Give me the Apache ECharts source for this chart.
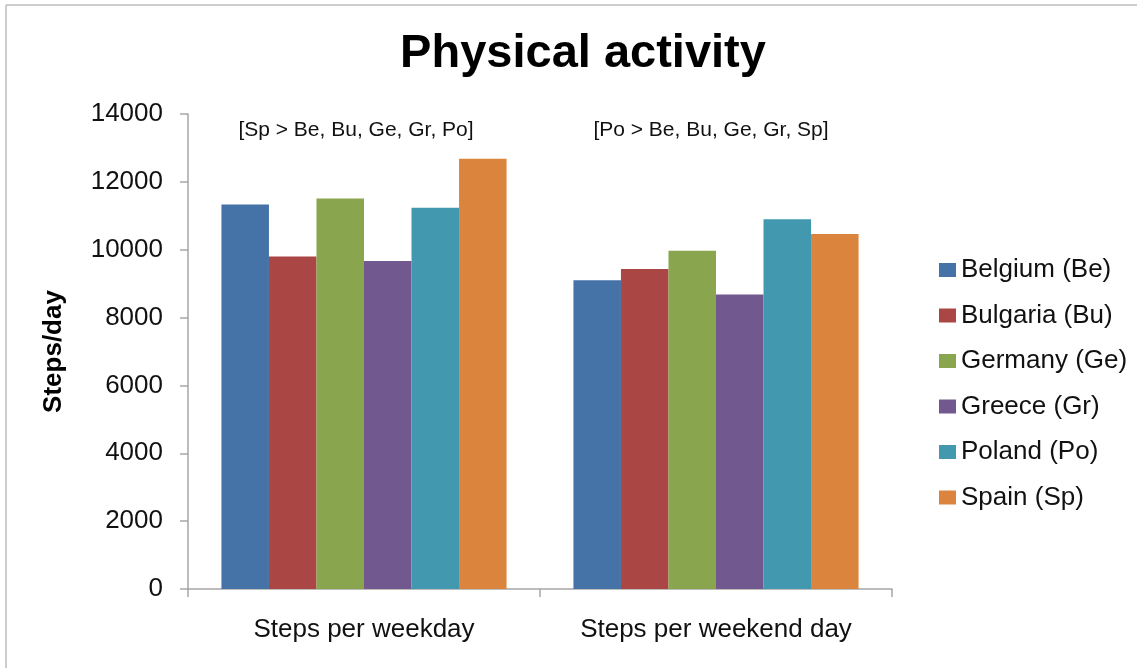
<!DOCTYPE html>
<html>
<head>
<meta charset="utf-8">
<script src="https://cdn.jsdelivr.net/npm/echarts@6/dist/echarts.min.js"></script>
<style>
html,body{margin:0;padding:0;background:#fff;}
#chart{width:1137px;height:668px;}
</style>
</head>
<body>
<div id="chart"></div>
<script>
var categories = ['Steps per weekday', 'Steps per weekend day'];
var belgium  = [11330, 9100];
var bulgaria = [9800, 9430];
var germany  = [11510, 9970];
var greece   = [9670, 8680];
var poland   = [11240, 10900];
var spain    = [12680, 10460];
var seriesNames = ['Belgium (Be)', 'Bulgaria (Bu)', 'Germany (Ge)', 'Greece (Gr)', 'Poland (Po)', 'Spain (Sp)'];
var seriesData = [belgium, bulgaria, germany, greece, poland, spain];
var colors = ['#4572A7', '#AA4643', '#89A54E', '#71588F', '#4198AF', '#DB843D'];
var annotations = ['[Sp > Be, Bu, Ge, Gr, Po]', '[Po > Be, Bu, Ge, Gr, Sp]'];

var font = 'Liberation Sans, Arial, sans-serif';
var chart = echarts.init(document.getElementById('chart'));
var series = seriesNames.map(function (n, i) {
  return {
    name: n, type: 'bar', data: seriesData[i],
    barGap: '0%', barCategoryGap: '19%',
    itemStyle: { color: colors[i] }
  };
});
chart.setOption({
  backgroundColor: '#fff',
  animation: false,
  color: colors,
  title: {
    text: 'Physical activity',
    left: 578, top: 26, textAlign: 'center',
    textStyle: { fontFamily: font, fontSize: 47, fontWeight: 'bold', color: '#000' }
  },
  grid: { left: 188, right: 245, top: 114, bottom: 79 },
  legend: {
    orient: 'vertical', left: 934, top: 252,
    itemWidth: 17, itemHeight: 14, itemGap: 19.5,
    icon: 'rect',
    textStyle: { fontFamily: font, fontSize: 26, color: '#111', lineHeight: 26 },
    data: seriesNames
  },
  xAxis: {
    type: 'category', data: categories,
    axisLine: { lineStyle: { color: '#a6a6a6', width: 1.5 } },
    axisTick: { show: true, length: 8, lineStyle: { color: '#a6a6a6', width: 1.5 } },
    axisLabel: { fontFamily: font, fontSize: 26, color: '#111', margin: 28, interval: 0, hideOverlap: false }
  },
  yAxis: {
    type: 'value', min: 0, max: 14000, interval: 2000,
    name: 'Steps/day', nameLocation: 'middle', nameGap: 121,
    nameTextStyle: { fontFamily: font, fontSize: 26, fontWeight: 'bold', color: '#000' },
    axisLine: { show: true, lineStyle: { color: '#a6a6a6', width: 1.5 } },
    axisTick: { show: true, length: 8, lineStyle: { color: '#a6a6a6', width: 1.5 } },
    splitLine: { show: false },
    axisLabel: { fontFamily: font, fontSize: 26, color: '#111', margin: 25, formatter: function (v) { return String(v); } }
  },
  series: series,
  graphic: [
    { type: 'line', shape: { x1: 6, y1: 5, x2: 1137, y2: 5 }, style: { stroke: '#bdbdbd', lineWidth: 1.5 } },
    { type: 'line', shape: { x1: 6, y1: 5, x2: 6, y2: 668 }, style: { stroke: '#bdbdbd', lineWidth: 1.5 } },
    { type: 'text', x: 356, y: 130, style: { text: annotations[0], font: '21px ' + font, fill: '#111', textAlign: 'center', textVerticalAlign: 'middle' } },
    { type: 'text', x: 711, y: 130, style: { text: annotations[1], font: '21px ' + font, fill: '#111', textAlign: 'center', textVerticalAlign: 'middle' } }
  ]
});
</script>
</body>
</html>
